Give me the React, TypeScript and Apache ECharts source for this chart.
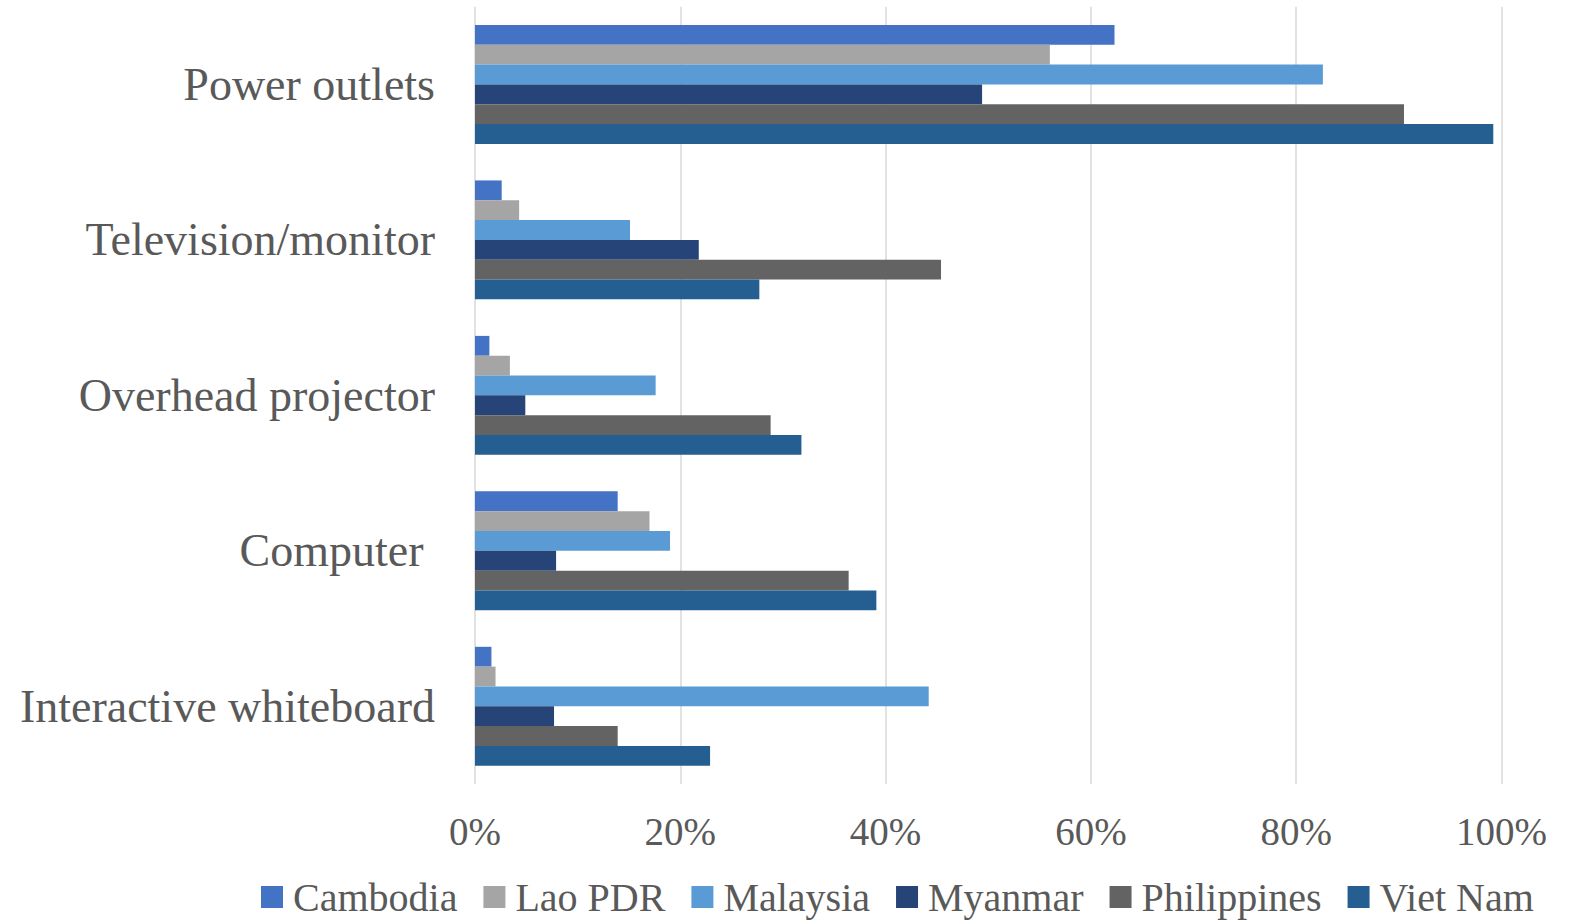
import React, { useEffect, useRef } from "react";
import * as echarts from "echarts";

// Share of schools with each facility, by country (%)
const categories = [
  "Power outlets",
  "Television/monitor",
  "Overhead projector",
  "Computer ",
  "Interactive whiteboard",
];

const countries = ["Cambodia", "Lao PDR", "Malaysia", "Myanmar", "Philippines", "Viet Nam"];

const cambodia = [62.3, 2.6, 1.4, 13.9, 1.6];
const laoPDR = [56.0, 4.3, 3.4, 17.0, 2.0];
const malaysia = [82.6, 15.1, 17.6, 19.0, 44.2];
const myanmar = [49.4, 21.8, 4.9, 7.9, 7.7];
const philippines = [90.5, 45.4, 28.8, 36.4, 13.9];
const vietNam = [99.2, 27.7, 31.8, 39.1, 22.9];

const seriesValues = [cambodia, laoPDR, malaysia, myanmar, philippines, vietNam];
const colors = ["#4472C4", "#A5A5A5", "#5B9BD5", "#264478", "#636363", "#255E91"];

const FONT = '"Liberation Serif", "DejaVu Serif", serif';
const TEXT = "#595959";

export default function App() {
  const ref = useRef<HTMLDivElement>(null);

  useEffect(() => {
    document.body.style.margin = "0";
    if (!ref.current) return;
    const chart = echarts.init(ref.current, undefined, { renderer: "svg" });
    chart.setOption({
      animation: false,
      backgroundColor: "#ffffff",
      textStyle: { fontFamily: FONT, color: TEXT },
      grid: { left: 475, right: 74.5, top: 6.7, height: 777.3, containLabel: false },
      legend: {
        left: 256,
        top: 872,
        itemWidth: 22,
        itemHeight: 22,
        itemGap: 26,
        icon: "rect",
        data: countries,
        textStyle: { fontFamily: FONT, fontSize: 40, color: TEXT, padding: [0, 0, 0, 5] },
      },
      xAxis: {
        type: "value",
        min: 0,
        max: 100,
        interval: 20,
        axisLine: { show: false },
        axisTick: { show: false },
        splitLine: { show: true, lineStyle: { color: "#D9D9D9", width: 1.5 } },
        axisLabel: {
          formatter: "{value}%",
          fontFamily: FONT,
          fontSize: 39,
          color: TEXT,
          margin: 28,
        },
      },
      yAxis: {
        type: "category",
        inverse: true,
        data: categories,
        axisLine: { show: false },
        axisTick: { show: false },
        axisLabel: { fontFamily: FONT, fontSize: 46, color: TEXT, margin: 40 },
      },
      series: countries.map((name, i) => ({
        name,
        type: "bar",
        data: seriesValues[i],
        itemStyle: { color: colors[i] },
        barGap: "0%",
        barCategoryGap: "23.5%",
      })),
    });
    return () => chart.dispose();
  }, []);

  return <div ref={ref} style={{ width: 1576, height: 923 }} />;
}
